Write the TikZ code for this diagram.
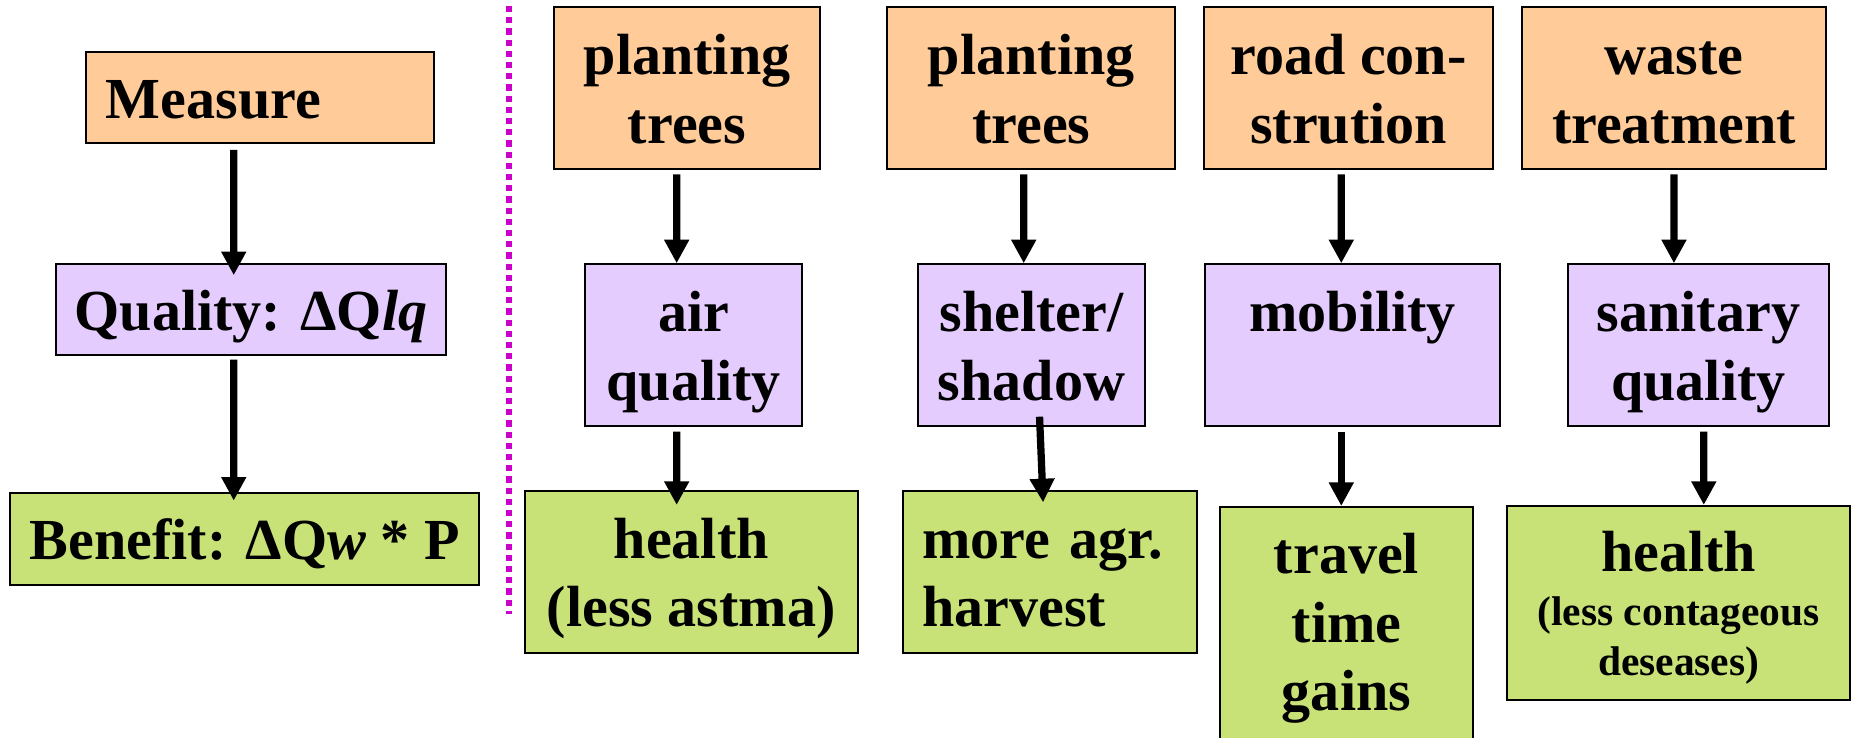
\documentclass[tikz,border=0pt]{standalone}
\usepackage{fontspec}
\setmainfont{Liberation Serif}
\usetikzlibrary{arrows.meta}
\definecolor{LightOrange}{RGB}{255,204,153}
\definecolor{LightViolet}{RGB}{228,204,255}
\definecolor{LightGreen}{RGB}{200,226,120}
\definecolor{DarkMagenta}{RGB}{204,0,204}
\newcommand{\tstrut}{\rule{0pt}{26pt}}
\newcommand{\bstrut}{\rule[-6pt]{0pt}{6pt}}

\begin{document}
\begin{tikzpicture}[
  box/.style={draw=black,line width=1pt,align=center,inner sep=0pt,
    font=\bfseries\fontsize{28}{33}\selectfont},
  measure/.style={box,fill=LightOrange,minimum height=2.744cm},
  quality/.style={box,fill=LightViolet,minimum height=2.746cm},
  benefit/.style={box,fill=LightGreen,minimum height=2.746cm},
  arr/.style={line width=3.5pt,-{Triangle[width=.4cm,length=.4cm]}}]
\useasboundingbox (0,0) rectangle (31.36,-12.503);

% general scheme
\node[measure,minimum width=5.906cm,minimum height=1.546cm,text width=5.226cm,
  inner xsep=.34cm,align=left] (meas) at (4.405,-1.653) {\tstrut Measure\bstrut};
\node[quality,minimum width=6.612cm,minimum height=1.54cm] (qual) at (4.25,-5.25)
  {\tstrut Quality: ΔQ\textit{lq}\bstrut};
\node[benefit,minimum width=7.944cm,minimum height=1.55cm] (bene) at (4.148,-9.13)
  {\tstrut Benefit: ΔQ\textit{w} * P\bstrut};

\draw[arr,shorten <=.094cm,shorten >=-.2cm] ([xshift=-.445cm]meas.south) -- ([xshift=-.29cm]qual.north);
\draw[arr,shorten <=.056cm,shorten >=-.144cm] ([xshift=-.29cm]qual.south) -- ([xshift=-.188cm]bene.north);

\coordinate (divtop) at (8.624,-0.1);
\coordinate (divbot) at (8.624,-10.4);
\draw[DarkMagenta,line width=3pt,dash pattern=on 3pt off 2.4pt] (divtop) -- (divbot);

% examples
\node[measure,minimum width=4.494cm] (plant1) at (11.64,-1.496) {\tstrut planting\\trees\bstrut};
\node[measure,minimum width=4.88cm] (plant2) at (17.472,-1.496) {\tstrut planting\\trees\bstrut};
\node[measure,minimum width=4.886cm] (road) at (22.847,-1.496) {\tstrut road con-\\strution\bstrut};
\node[measure,minimum width=5.14cm] (waste) at (28.362,-1.496) {\tstrut waste\\treatment\bstrut};

\node[quality,minimum width=3.682cm] (air) at (11.751,-5.851) {\tstrut air\\quality\bstrut};
\node[quality,minimum width=3.856cm] (shelter) at (17.476,-5.851) {\tstrut shelter/\\shadow\bstrut};
\node[quality,minimum width=4.998cm] (mobil) at (22.915,-5.851) {\tstrut mobility\\\bstrut};
\node[quality,minimum width=4.428cm] (sanit) at (28.774,-5.851) {\tstrut sanitary\\quality\bstrut};

\node[benefit,minimum width=5.648cm] (health) at (11.712,-9.685) {\tstrut health\\(less astma)\bstrut};
\node[benefit,minimum width=4.99cm,text width=4.33cm,inner xsep=.33cm,align=left] (agr)
  at (17.791,-9.685) {\tstrut more agr.\\harvest\bstrut};
\node[benefit,minimum width=4.292cm,minimum height=4.166cm,anchor=north] (travel)
  at (22.812,-8.572) {\tstrut travel\\time\\gains\rule[-14pt]{0pt}{14pt}};
\node[benefit,minimum width=5.808cm,minimum height=3.288cm] (health2) at (28.44,-10.216)
  {\tstrut health\\[-7pt]{\fontsize{20}{24}\selectfont(less contageous}\\[-9pt]%
   {\fontsize{20}{24}\selectfont deseases)}\bstrut};

\draw[arr,shorten <=.068cm] ([xshift=-.176cm]plant1.south) -- ([xshift=-.287cm]air.north);
\draw[arr,shorten <=.068cm] ([xshift=-.128cm]plant2.south) -- ([xshift=-.132cm]shelter.north);
\draw[arr,shorten <=.068cm] ([xshift=-.123cm]road.south) -- ([xshift=-.191cm]mobil.north);
\draw[arr,shorten <=.068cm] (waste.south) -- ([xshift=-.414cm]sanit.north);

\draw[arr,shorten <=.072cm,shorten >=-.26cm] ([xshift=-.287cm]air.south) -- ([xshift=-.248cm]health.north);
\draw[arr] ([xshift=.136cm,yshift=.182cm]shelter.south) -- ([xshift=-.119cm,yshift=-.216cm]agr.north);
\draw[arr,shorten <=.072cm] ([xshift=-.191cm]mobil.south) -- ([xshift=-.088cm]travel.north);
\draw[arr,shorten <=.072cm] ([xshift=.092cm]sanit.south) -- ([xshift=.426cm]health2.north);

\end{tikzpicture}
\end{document}
